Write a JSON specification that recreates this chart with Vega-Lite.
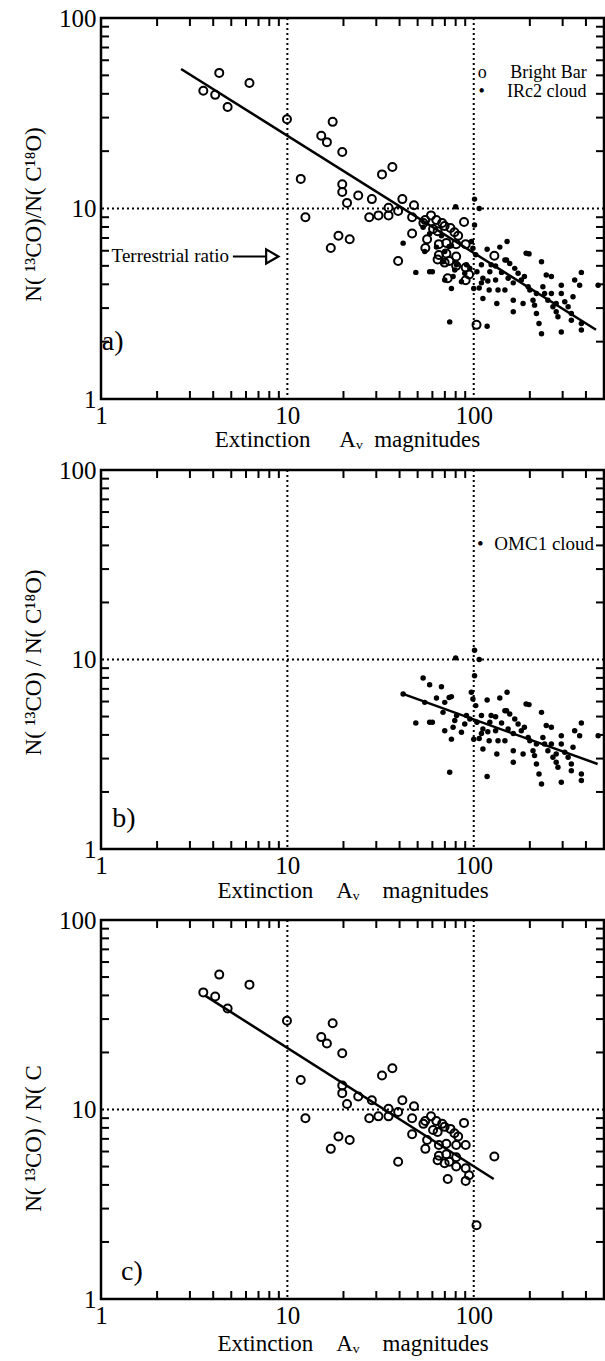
{
  "$schema": "https://vega.github.io/schema/vega-lite/v6.json",
  "background": "white",
  "padding": {"left": 20, "top": 4, "right": 0, "bottom": 0},
  "config": {
    "font": "Liberation Serif",
    "view": {"stroke": "black", "strokeWidth": 2.5},
    "axis": {"labelFont": "Liberation Serif", "titleFont": "Liberation Serif", "labelFontSize": 25, "titleFontSize": 23, "titleFontWeight": "normal", "labelColor": "black", "titleColor": "black", "ticks": false, "grid": false, "domain": false, "labelFlush": false, "labelOverlap": false, "labelBound": false},
    "axisX": {"labelPadding": 4},
    "axisY": {"labelPadding": 5},
    "rule": {"color": "black"},
    "text": {"font": "Liberation Serif", "color": "black"}
  },
  "datasets": {
    "bright": [
      {"x":3.54,"y":41.5},{"x":4.10,"y":39.5},{"x":4.31,"y":51.5},{"x":4.78,"y":34.1},{"x":6.26,"y":45.6},{"x":9.95,"y":29.4},{"x":17.5,"y":28.5},{"x":15.2,"y":24.1},{"x":16.3,"y":22.3},{"x":19.7,"y":19.8},{"x":11.8,"y":14.3},{"x":32.2,"y":15.1},{"x":36.6,"y":16.5},{"x":19.7,"y":13.4},{"x":19.7,"y":12.2},{"x":20.9,"y":10.7},{"x":24.0,"y":11.7},{"x":28.4,"y":11.2},{"x":12.5,"y":9.0},{"x":27.5,"y":9.0},{"x":30.8,"y":9.2},{"x":34.9,"y":10.1},{"x":34.9,"y":9.2},{"x":39.3,"y":9.7},{"x":41.4,"y":11.2},{"x":46.7,"y":9.0},{"x":47.8,"y":10.4},{"x":18.8,"y":7.2},{"x":17.1,"y":6.2},{"x":21.6,"y":6.9},{"x":46.7,"y":7.4},{"x":39.3,"y":5.3},{"x":53.7,"y":8.4},{"x":54.9,"y":8.7},{"x":59,"y":9.2},{"x":63,"y":8.7},{"x":67.7,"y":8.4},{"x":64,"y":7.6},{"x":69.8,"y":8.1},{"x":75,"y":7.9},{"x":78.8,"y":7.5},{"x":88.7,"y":8.5},{"x":56.2,"y":6.9},{"x":55,"y":6.2},{"x":65,"y":6.5},{"x":71.3,"y":6.6},{"x":80.5,"y":6.5},{"x":90.5,"y":6.5},{"x":65,"y":5.7},{"x":71.3,"y":5.8},{"x":64,"y":5.4},{"x":69.8,"y":5.2},{"x":74,"y":5.3},{"x":80.5,"y":5.6},{"x":80.5,"y":5.0},{"x":90.5,"y":4.9},{"x":94.4,"y":4.5},{"x":90.5,"y":4.2},{"x":72.5,"y":4.3},{"x":129,"y":5.65},{"x":103.5,"y":2.45},{"x":82.5,"y":7.2},{"x":60.5,"y":7.8}
    ],
    "dots": [
      {"x":41.8,"y":6.58},{"x":48.9,"y":4.62},{"x":53.5,"y":7.98},{"x":58,"y":7.36},{"x":67.1,"y":7.19},{"x":54.6,"y":5.94},{"x":58,"y":4.66},{"x":63.1,"y":6.27},{"x":68.4,"y":5.26},{"x":69.9,"y":5.94},{"x":73.8,"y":6.31},{"x":75.9,"y":6.37},{"x":69.9,"y":4.21},{"x":75.9,"y":3.80},{"x":77.5,"y":4.39},{"x":74.3,"y":2.54},{"x":80,"y":10.2},{"x":79.1,"y":4.76},{"x":85.9,"y":4.13},{"x":89.5,"y":4.57},{"x":91.4,"y":5.06},{"x":97.1,"y":6.71},{"x":99,"y":6.19},{"x":101,"y":11.2},{"x":107,"y":10.0},{"x":101,"y":8.2},{"x":102.5,"y":5.71},{"x":104,"y":4.66},{"x":100,"y":3.80},{"x":107,"y":3.83},{"x":110,"y":5.06},{"x":112,"y":4.30},{"x":112,"y":3.37},{"x":118,"y":6.11},{"x":118,"y":2.41},{"x":122,"y":4.66},{"x":121,"y":3.73},{"x":124,"y":5.06},{"x":131,"y":4.99},{"x":131,"y":4.21},{"x":135,"y":3.73},{"x":133,"y":3.17},{"x":138,"y":6.27},{"x":141,"y":4.62},{"x":147,"y":3.73},{"x":151,"y":6.71},{"x":150,"y":5.37},{"x":153,"y":4.30},{"x":156,"y":5.15},{"x":163,"y":3.30},{"x":163,"y":2.87},{"x":166,"y":4.85},{"x":173,"y":4.57},{"x":184,"y":3.17},{"x":180,"y":4.21},{"x":187,"y":4.39},{"x":191,"y":5.82},{"x":198,"y":5.78},{"x":196,"y":3.88},{"x":200,"y":3.73},{"x":208,"y":3.30},{"x":212,"y":3.11},{"x":217,"y":2.81},{"x":224,"y":2.49},{"x":231,"y":2.20},{"x":231,"y":5.26},{"x":235,"y":3.88},{"x":240,"y":3.58},{"x":245,"y":4.48},{"x":250,"y":3.30},{"x":261,"y":4.39},{"x":261,"y":3.58},{"x":266,"y":3.05},{"x":277,"y":2.87},{"x":283,"y":2.70},{"x":295,"y":3.96},{"x":295,"y":3.58},{"x":295,"y":2.25},{"x":308,"y":3.24},{"x":321,"y":3.05},{"x":334,"y":2.81},{"x":341,"y":3.44},{"x":348,"y":4.21},{"x":334,"y":2.59},{"x":370,"y":3.96},{"x":378,"y":4.62},{"x":378,"y":2.49},{"x":378,"y":2.30},{"x":465,"y":3.96},{"x":217,"y":3.58},{"x":277,"y":3.17},{"x":80.9,"y":5.06},{"x":95.3,"y":4.85},{"x":110,"y":4.07},{"x":119,"y":4.16},{"x":147,"y":5.37},{"x":163,"y":4.07},{"x":60,"y":4.66}
    ],
    "xt": [{"v":2},{"v":3},{"v":4},{"v":5},{"v":6},{"v":7},{"v":8},{"v":9},{"v":20},{"v":30},{"v":40},{"v":50},{"v":60},{"v":70},{"v":80},{"v":90},{"v":200},{"v":300},{"v":400}],
    "yt": [{"v":2},{"v":3},{"v":4},{"v":5},{"v":6},{"v":7},{"v":8},{"v":9},{"v":20},{"v":30},{"v":40},{"v":50},{"v":60},{"v":70},{"v":80},{"v":90}],
    "gridx": [{"v":10},{"v":100}],
    "gridy": [{"v":10}],
    "fitA": [{"x":2.69,"y":54},{"x":453,"y":2.31}],
    "fitB": [{"x":41.7,"y":6.58},{"x":462,"y":2.81}],
    "fitC": [{"x":3.6,"y":40},{"x":128,"y":4.3}],
    "legA": [{"x":105,"y":51.3,"t":"o"},{"x":157,"y":51.3,"t":"Bright Bar"},{"x":106,"y":40.8,"t":"•"},{"x":151,"y":40.8,"t":"IRc2 cloud"}],
    "legB": [{"x":104,"y":40.7,"t":"•"},{"x":129,"y":40.7,"t":"OMC1 cloud"}],
    "terr": [{"x":1.14,"y":5.6,"t":"Terrestrial ratio"}],
    "arrow": [{"x":5.1,"x2":7.6,"y":5.6}],
    "head": [{"x":8.3,"y":5.6}],
    "labA": [{"x":1.01,"y":2.0,"t":"a)"}],
    "labB": [{"x":1.15,"y":1.44,"t":"b)"}],
    "labC": [{"x":1.28,"y":1.39,"t":"c)"}]
  },
  "bounds": "flush",
  "spacing": 71,
  "vconcat": [
    {
      "width": 503, "height": 381,
      "resolve": {"axis": {"x": "independent", "y": "independent"}},
      "layer": [
        {"data": {"name": "gridx"}, "mark": {"type": "rule", "strokeDash": [2, 3], "strokeWidth": 2},
         "encoding": {"x": {"field": "v", "type": "quantitative", "scale": {"type": "log", "domain": [1, 500], "nice": false}, "axis": null}}},
        {"data": {"name": "gridy"}, "mark": {"type": "rule", "strokeDash": [2, 3], "strokeWidth": 2},
         "encoding": {"y": {"field": "v", "type": "quantitative", "scale": {"type": "log", "domain": [1, 100], "nice": false}, "axis": null}}},
        {"data": {"name": "xt"}, "mark": {"type": "point", "shape": "M0,0V-1", "size": 256, "filled": false, "stroke": "black", "strokeWidth": 2, "opacity": 1},
         "encoding": {"x": {"field": "v", "type": "quantitative", "scale": {"type": "log", "domain": [1, 500], "nice": false}, "axis": null},
                      "y": {"datum": 1, "type": "quantitative", "scale": {"type": "log", "domain": [1, 100], "nice": false}, "axis": null}}},
        {"data": {"name": "xt"}, "mark": {"type": "point", "shape": "M0,0V1", "size": 256, "filled": false, "stroke": "black", "strokeWidth": 2, "opacity": 1},
         "encoding": {"x": {"field": "v", "type": "quantitative", "scale": {"type": "log", "domain": [1, 500], "nice": false}, "axis": null},
                      "y": {"datum": 100, "type": "quantitative", "scale": {"type": "log", "domain": [1, 100], "nice": false}, "axis": null}}},
        {"data": {"name": "yt"}, "mark": {"type": "point", "shape": "M0,0H1", "size": 256, "filled": false, "stroke": "black", "strokeWidth": 2, "opacity": 1},
         "encoding": {"y": {"field": "v", "type": "quantitative", "scale": {"type": "log", "domain": [1, 100], "nice": false}, "axis": null},
                      "x": {"datum": 1, "type": "quantitative", "scale": {"type": "log", "domain": [1, 500], "nice": false}, "axis": null}}},
        {"data": {"name": "yt"}, "mark": {"type": "point", "shape": "M0,0H-1", "size": 256, "filled": false, "stroke": "black", "strokeWidth": 2, "opacity": 1},
         "encoding": {"y": {"field": "v", "type": "quantitative", "scale": {"type": "log", "domain": [1, 100], "nice": false}, "axis": null},
                      "x": {"datum": 500, "type": "quantitative", "scale": {"type": "log", "domain": [1, 500], "nice": false}, "axis": null}}},
        {"data": {"name": "dots"}, "mark": {"type": "circle", "color": "black", "size": 30, "opacity": 1},
         "encoding": {
           "x": {"field": "x", "type": "quantitative", "scale": {"type": "log", "domain": [1, 500], "nice": false},
                 "axis": {"orient": "bottom", "values": [1, 10, 100], "title": "Extinction\u00a0\u00a0\u00a0\u00a0\u00a0Aᵥ\u00a0\u00a0magnitudes", "titleX": 246, "titleY": 40, "titleBaseline": "middle"}},
           "y": {"field": "y", "type": "quantitative", "scale": {"type": "log", "domain": [1, 100], "nice": false},
                 "axis": {"orient": "left", "values": [1, 10, 100], "title": "N( ¹³CO)/N( C¹⁸O)", "titleX": -68, "titleY": 196, "titleBaseline": "middle"}}}},
        {"data": {"name": "bright"}, "mark": {"type": "point", "shape": "circle", "filled": false, "stroke": "black", "strokeWidth": 2, "size": 64, "opacity": 1},
         "encoding": {"x": {"field": "x", "type": "quantitative", "scale": {"type": "log", "domain": [1, 500], "nice": false}, "axis": null},
                      "y": {"field": "y", "type": "quantitative", "scale": {"type": "log", "domain": [1, 100], "nice": false}, "axis": null}}},
        {"data": {"name": "fitA"}, "mark": {"type": "line", "color": "black", "strokeWidth": 2.5},
         "encoding": {"x": {"field": "x", "type": "quantitative", "scale": {"type": "log", "domain": [1, 500], "nice": false}, "axis": null},
                      "y": {"field": "y", "type": "quantitative", "scale": {"type": "log", "domain": [1, 100], "nice": false}, "axis": null}}},
        {"data": {"name": "legA"}, "mark": {"type": "text", "align": "left", "baseline": "middle", "fontSize": 18},
         "encoding": {"x": {"field": "x", "type": "quantitative", "scale": {"type": "log", "domain": [1, 500], "nice": false}, "axis": null},
                      "y": {"field": "y", "type": "quantitative", "scale": {"type": "log", "domain": [1, 100], "nice": false}, "axis": null},
                      "text": {"field": "t"}}},
        {"data": {"name": "terr"}, "mark": {"type": "text", "align": "left", "baseline": "middle", "fontSize": 19},
         "encoding": {"x": {"field": "x", "type": "quantitative", "scale": {"type": "log", "domain": [1, 500], "nice": false}, "axis": null},
                      "y": {"field": "y", "type": "quantitative", "scale": {"type": "log", "domain": [1, 100], "nice": false}, "axis": null},
                      "text": {"field": "t"}}},
        {"data": {"name": "arrow"}, "mark": {"type": "rule", "strokeWidth": 2},
         "encoding": {"x": {"field": "x", "type": "quantitative", "scale": {"type": "log", "domain": [1, 500], "nice": false}, "axis": null},
                      "x2": {"field": "x2"},
                      "y": {"field": "y", "type": "quantitative", "scale": {"type": "log", "domain": [1, 100], "nice": false}, "axis": null}}},
        {"data": {"name": "head"}, "mark": {"type": "point", "shape": "triangle-right", "filled": false, "stroke": "black", "strokeWidth": 2.2, "size": 200, "opacity": 1},
         "encoding": {"x": {"field": "x", "type": "quantitative", "scale": {"type": "log", "domain": [1, 500], "nice": false}, "axis": null},
                      "y": {"field": "y", "type": "quantitative", "scale": {"type": "log", "domain": [1, 100], "nice": false}, "axis": null}}},
        {"data": {"name": "labA"}, "mark": {"type": "text", "align": "left", "baseline": "middle", "fontSize": 28},
         "encoding": {"x": {"field": "x", "type": "quantitative", "scale": {"type": "log", "domain": [1, 500], "nice": false}, "axis": null},
                      "y": {"field": "y", "type": "quantitative", "scale": {"type": "log", "domain": [1, 100], "nice": false}, "axis": null},
                      "text": {"field": "t"}}}
      ]
    },
    {
      "width": 503, "height": 379,
      "resolve": {"axis": {"x": "independent", "y": "independent"}},
      "layer": [
        {"data": {"name": "gridx"}, "mark": {"type": "rule", "strokeDash": [2, 3], "strokeWidth": 2},
         "encoding": {"x": {"field": "v", "type": "quantitative", "scale": {"type": "log", "domain": [1, 500], "nice": false}, "axis": null}}},
        {"data": {"name": "gridy"}, "mark": {"type": "rule", "strokeDash": [2, 3], "strokeWidth": 2},
         "encoding": {"y": {"field": "v", "type": "quantitative", "scale": {"type": "log", "domain": [1, 100], "nice": false}, "axis": null}}},
        {"data": {"name": "xt"}, "mark": {"type": "point", "shape": "M0,0V-1", "size": 256, "filled": false, "stroke": "black", "strokeWidth": 2, "opacity": 1},
         "encoding": {"x": {"field": "v", "type": "quantitative", "scale": {"type": "log", "domain": [1, 500], "nice": false}, "axis": null},
                      "y": {"datum": 1, "type": "quantitative", "scale": {"type": "log", "domain": [1, 100], "nice": false}, "axis": null}}},
        {"data": {"name": "xt"}, "mark": {"type": "point", "shape": "M0,0V1", "size": 256, "filled": false, "stroke": "black", "strokeWidth": 2, "opacity": 1},
         "encoding": {"x": {"field": "v", "type": "quantitative", "scale": {"type": "log", "domain": [1, 500], "nice": false}, "axis": null},
                      "y": {"datum": 100, "type": "quantitative", "scale": {"type": "log", "domain": [1, 100], "nice": false}, "axis": null}}},
        {"data": {"name": "yt"}, "mark": {"type": "point", "shape": "M0,0H1", "size": 256, "filled": false, "stroke": "black", "strokeWidth": 2, "opacity": 1},
         "encoding": {"y": {"field": "v", "type": "quantitative", "scale": {"type": "log", "domain": [1, 100], "nice": false}, "axis": null},
                      "x": {"datum": 1, "type": "quantitative", "scale": {"type": "log", "domain": [1, 500], "nice": false}, "axis": null}}},
        {"data": {"name": "yt"}, "mark": {"type": "point", "shape": "M0,0H-1", "size": 256, "filled": false, "stroke": "black", "strokeWidth": 2, "opacity": 1},
         "encoding": {"y": {"field": "v", "type": "quantitative", "scale": {"type": "log", "domain": [1, 100], "nice": false}, "axis": null},
                      "x": {"datum": 500, "type": "quantitative", "scale": {"type": "log", "domain": [1, 500], "nice": false}, "axis": null}}},
        {"data": {"name": "dots"}, "mark": {"type": "circle", "color": "black", "size": 30, "opacity": 1},
         "encoding": {
           "x": {"field": "x", "type": "quantitative", "scale": {"type": "log", "domain": [1, 500], "nice": false},
                 "axis": {"orient": "bottom", "values": [1, 10, 100], "title": "Extinction\u00a0\u00a0\u00a0\u00a0Aᵥ\u00a0\u00a0\u00a0\u00a0magnitudes", "titleY": 41, "titleBaseline": "middle"}},
           "y": {"field": "y", "type": "quantitative", "scale": {"type": "log", "domain": [1, 100], "nice": false},
                 "axis": {"orient": "left", "values": [1, 10, 100], "title": "N( ¹³CO) / N( C¹⁸O)", "titleX": -68, "titleY": 192, "titleBaseline": "middle"}}}},
        {"data": {"name": "fitB"}, "mark": {"type": "line", "color": "black", "strokeWidth": 2.5},
         "encoding": {"x": {"field": "x", "type": "quantitative", "scale": {"type": "log", "domain": [1, 500], "nice": false}, "axis": null},
                      "y": {"field": "y", "type": "quantitative", "scale": {"type": "log", "domain": [1, 100], "nice": false}, "axis": null}}},
        {"data": {"name": "legB"}, "mark": {"type": "text", "align": "left", "baseline": "middle", "fontSize": 19},
         "encoding": {"x": {"field": "x", "type": "quantitative", "scale": {"type": "log", "domain": [1, 500], "nice": false}, "axis": null},
                      "y": {"field": "y", "type": "quantitative", "scale": {"type": "log", "domain": [1, 100], "nice": false}, "axis": null},
                      "text": {"field": "t"}}},
        {"data": {"name": "labB"}, "mark": {"type": "text", "align": "left", "baseline": "middle", "fontSize": 28},
         "encoding": {"x": {"field": "x", "type": "quantitative", "scale": {"type": "log", "domain": [1, 500], "nice": false}, "axis": null},
                      "y": {"field": "y", "type": "quantitative", "scale": {"type": "log", "domain": [1, 100], "nice": false}, "axis": null},
                      "text": {"field": "t"}}}
      ]
    },
    {
      "width": 503, "height": 379,
      "resolve": {"axis": {"x": "independent", "y": "independent"}},
      "layer": [
        {"data": {"name": "gridx"}, "mark": {"type": "rule", "strokeDash": [2, 3], "strokeWidth": 2},
         "encoding": {"x": {"field": "v", "type": "quantitative", "scale": {"type": "log", "domain": [1, 500], "nice": false}, "axis": null}}},
        {"data": {"name": "gridy"}, "mark": {"type": "rule", "strokeDash": [2, 3], "strokeWidth": 2},
         "encoding": {"y": {"field": "v", "type": "quantitative", "scale": {"type": "log", "domain": [1, 100], "nice": false}, "axis": null}}},
        {"data": {"name": "xt"}, "mark": {"type": "point", "shape": "M0,0V-1", "size": 256, "filled": false, "stroke": "black", "strokeWidth": 2, "opacity": 1},
         "encoding": {"x": {"field": "v", "type": "quantitative", "scale": {"type": "log", "domain": [1, 500], "nice": false}, "axis": null},
                      "y": {"datum": 1, "type": "quantitative", "scale": {"type": "log", "domain": [1, 100], "nice": false}, "axis": null}}},
        {"data": {"name": "xt"}, "mark": {"type": "point", "shape": "M0,0V1", "size": 256, "filled": false, "stroke": "black", "strokeWidth": 2, "opacity": 1},
         "encoding": {"x": {"field": "v", "type": "quantitative", "scale": {"type": "log", "domain": [1, 500], "nice": false}, "axis": null},
                      "y": {"datum": 100, "type": "quantitative", "scale": {"type": "log", "domain": [1, 100], "nice": false}, "axis": null}}},
        {"data": {"name": "yt"}, "mark": {"type": "point", "shape": "M0,0H1", "size": 256, "filled": false, "stroke": "black", "strokeWidth": 2, "opacity": 1},
         "encoding": {"y": {"field": "v", "type": "quantitative", "scale": {"type": "log", "domain": [1, 100], "nice": false}, "axis": null},
                      "x": {"datum": 1, "type": "quantitative", "scale": {"type": "log", "domain": [1, 500], "nice": false}, "axis": null}}},
        {"data": {"name": "yt"}, "mark": {"type": "point", "shape": "M0,0H-1", "size": 256, "filled": false, "stroke": "black", "strokeWidth": 2, "opacity": 1},
         "encoding": {"y": {"field": "v", "type": "quantitative", "scale": {"type": "log", "domain": [1, 100], "nice": false}, "axis": null},
                      "x": {"datum": 500, "type": "quantitative", "scale": {"type": "log", "domain": [1, 500], "nice": false}, "axis": null}}},
        {"data": {"name": "bright"}, "mark": {"type": "point", "shape": "circle", "filled": false, "stroke": "black", "strokeWidth": 2, "size": 64, "opacity": 1},
         "encoding": {
           "x": {"field": "x", "type": "quantitative", "scale": {"type": "log", "domain": [1, 500], "nice": false},
                 "axis": {"orient": "bottom", "values": [1, 10, 100], "title": "Extinction\u00a0\u00a0\u00a0\u00a0Aᵥ\u00a0\u00a0\u00a0\u00a0magnitudes", "titleY": 44, "titleBaseline": "middle"}},
           "y": {"field": "y", "type": "quantitative", "scale": {"type": "log", "domain": [1, 100], "nice": false},
                 "axis": {"orient": "left", "values": [1, 10, 100], "title": "N( ¹³CO) / N( C", "titleX": -68, "titleY": 218, "titleBaseline": "middle"}}}},
        {"data": {"name": "fitC"}, "mark": {"type": "line", "color": "black", "strokeWidth": 2.5},
         "encoding": {"x": {"field": "x", "type": "quantitative", "scale": {"type": "log", "domain": [1, 500], "nice": false}, "axis": null},
                      "y": {"field": "y", "type": "quantitative", "scale": {"type": "log", "domain": [1, 100], "nice": false}, "axis": null}}},
        {"data": {"name": "labC"}, "mark": {"type": "text", "align": "left", "baseline": "middle", "fontSize": 28},
         "encoding": {"x": {"field": "x", "type": "quantitative", "scale": {"type": "log", "domain": [1, 500], "nice": false}, "axis": null},
                      "y": {"field": "y", "type": "quantitative", "scale": {"type": "log", "domain": [1, 100], "nice": false}, "axis": null},
                      "text": {"field": "t"}}}
      ]
    }
  ]
}
